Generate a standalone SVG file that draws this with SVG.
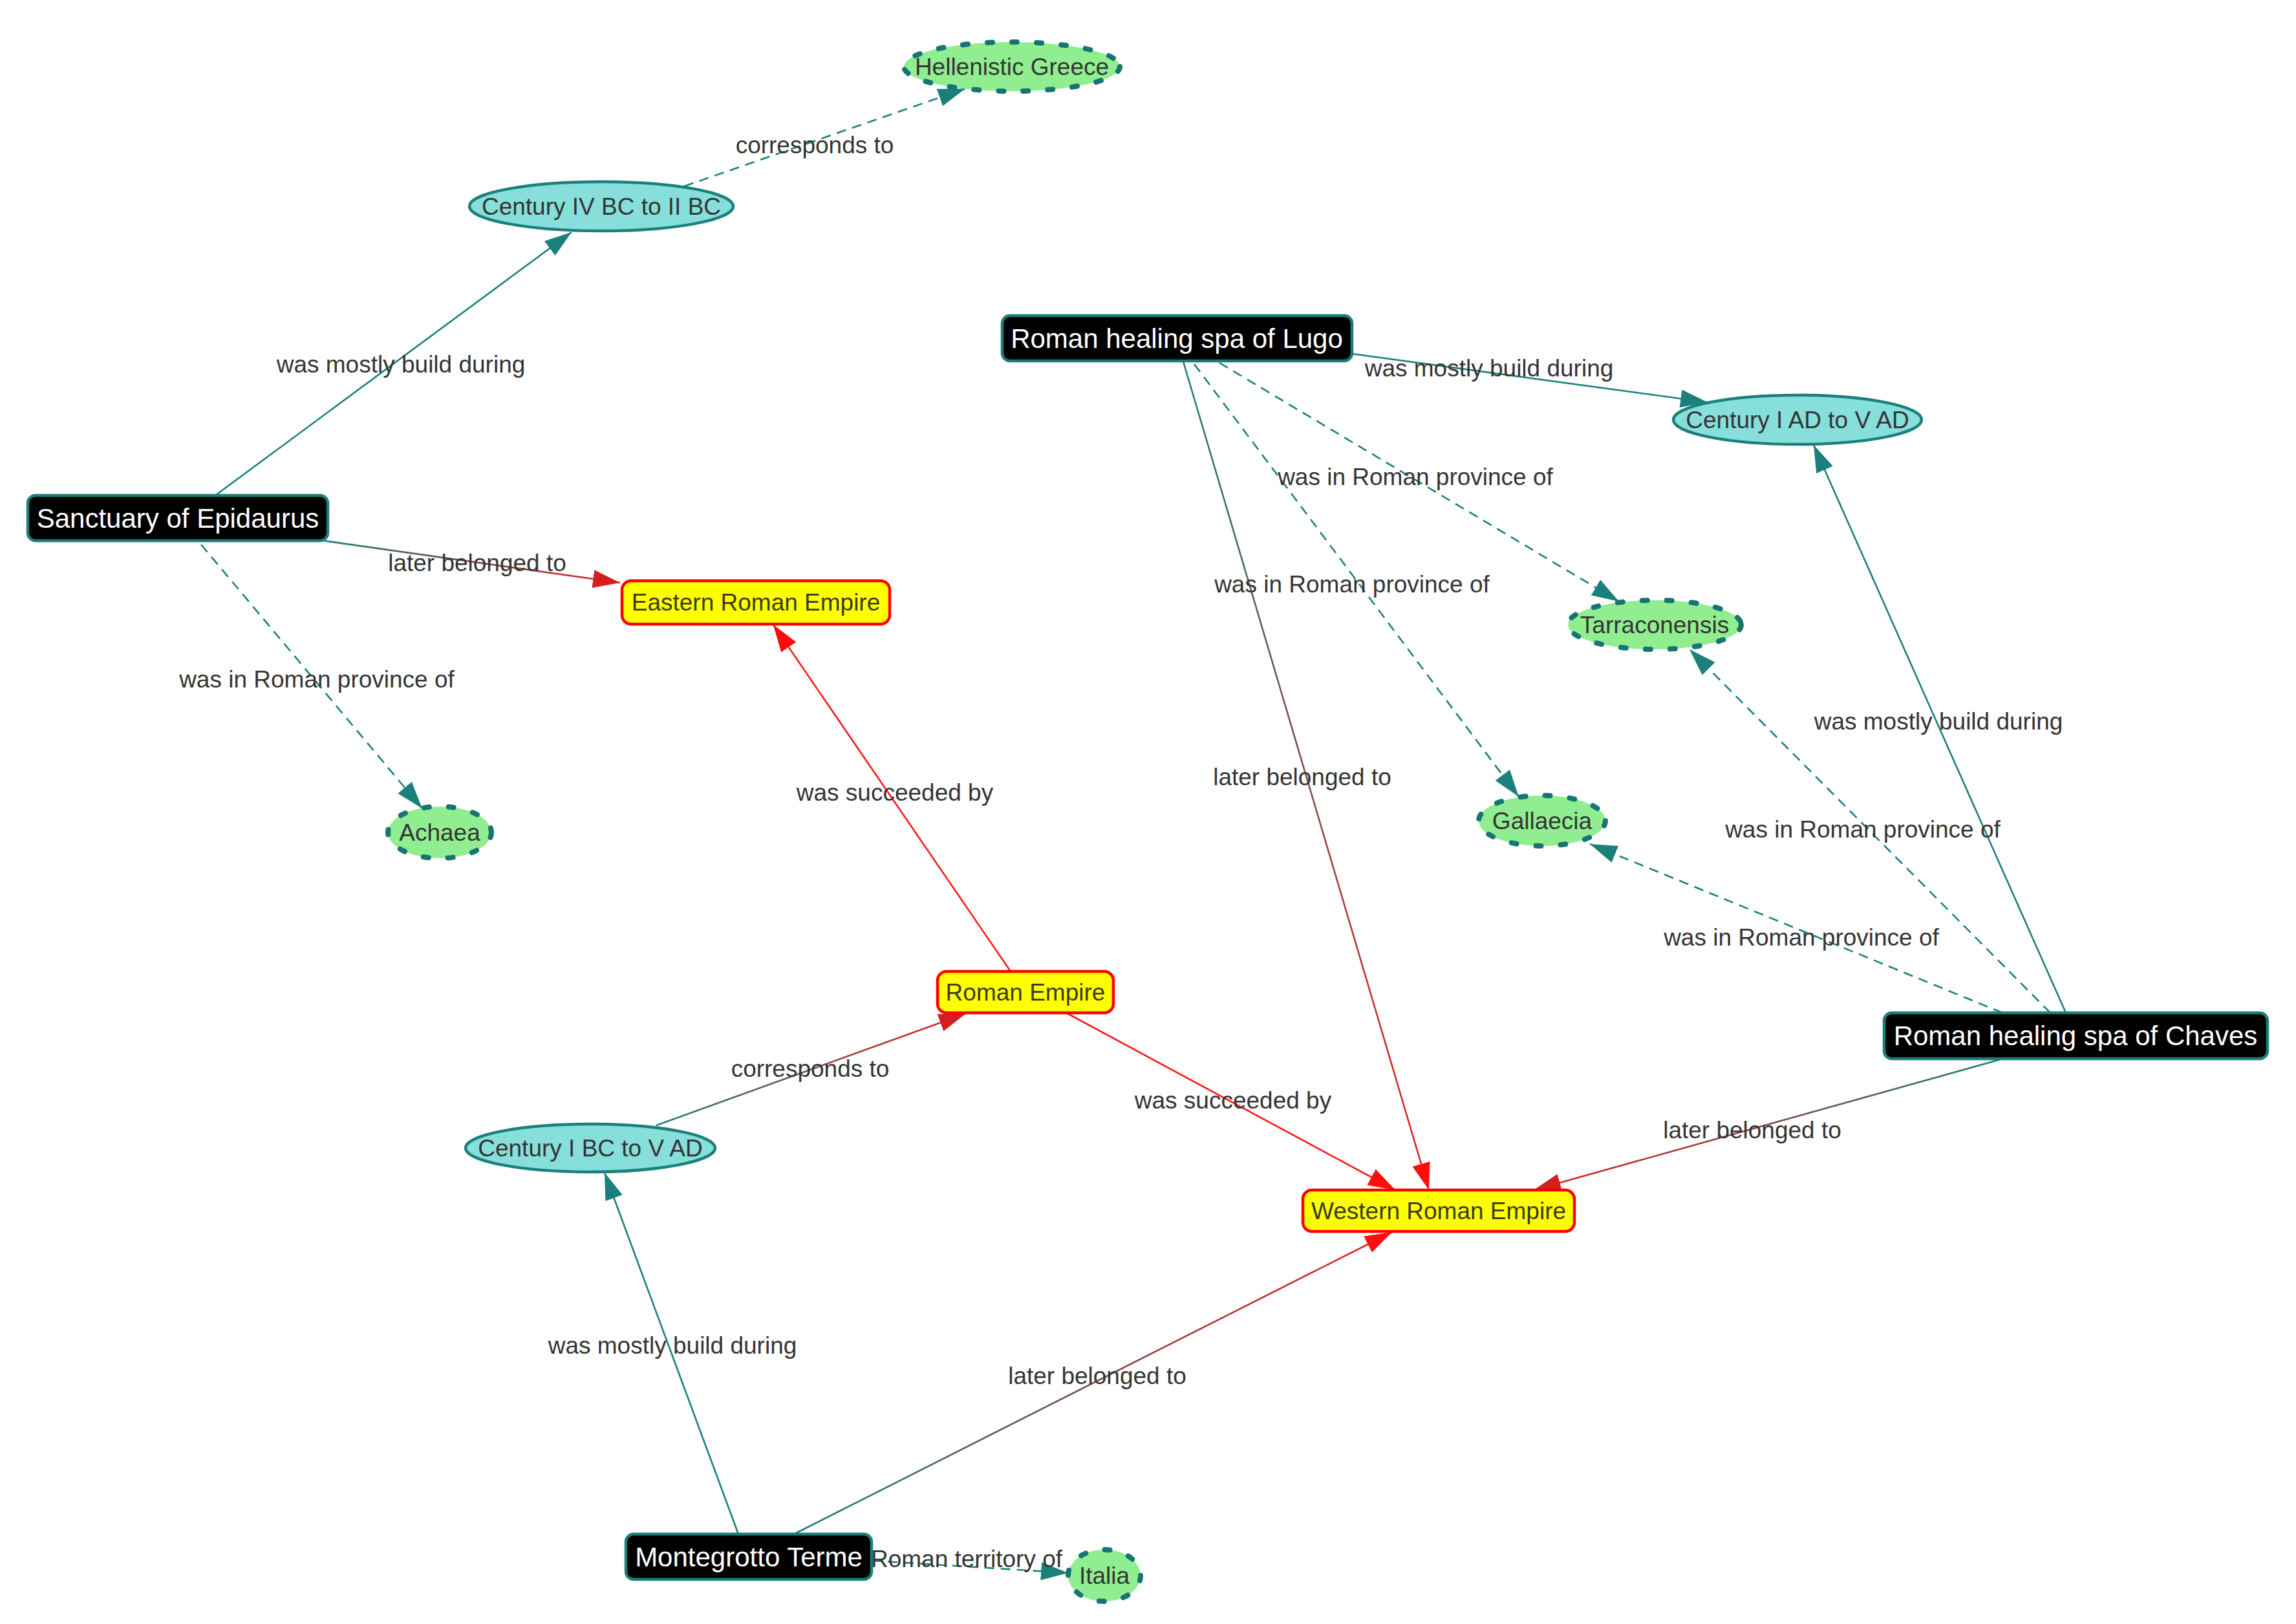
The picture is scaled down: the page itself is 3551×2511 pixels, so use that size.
<svg xmlns="http://www.w3.org/2000/svg" width="3551" height="2511" viewBox="0 0 3551 2511">
<style>
  text { font-family: "Liberation Sans", Arial, sans-serif; }
  .lbl { font-size: 37px; fill: #343434; text-anchor: middle; }
  .edge { fill: none; stroke-width: 2.6; }
  .teal { stroke: #1b807c; }
  .dash { stroke-dasharray: 15 10; }
  .red { stroke: #ff1a1a; }
  .box { fill: #000000; stroke: #1b7e7a; stroke-width: 4.5; }
  .boxt { font-size: 42px; fill: #ffffff; text-anchor: middle; }
  .emp { fill: #ffff00; stroke: #ff0000; stroke-width: 4.5; }
  .empt { font-size: 37px; fill: #3a3a1a; text-anchor: middle; }
  .per { fill: #86dfdb; stroke: #1b807c; stroke-width: 4.5; }
  .prov { fill: #90ee90; stroke: #167572; stroke-width: 8; stroke-dasharray: 8 30; stroke-linecap: round; }
  .nt { font-size: 37px; fill: #343434; text-anchor: middle; }
</style>
<defs>
  <marker id="aT" viewBox="0 0 42 28" refX="42" refY="14" markerWidth="42" markerHeight="28" markerUnits="userSpaceOnUse" orient="auto"><path d="M0,0 L42,14 L0,28 Z" fill="#1b807c"/></marker>
  <marker id="aR" viewBox="0 0 42 28" refX="42" refY="14" markerWidth="42" markerHeight="28" markerUnits="userSpaceOnUse" orient="auto"><path d="M0,0 L42,14 L0,28 Z" fill="#ff0d0d"/></marker>
  <marker id="aD" viewBox="0 0 42 28" refX="42" refY="14" markerWidth="42" markerHeight="28" markerUnits="userSpaceOnUse" orient="auto"><path d="M0,0 L42,14 L0,28 Z" fill="#d41f1f"/></marker>
  <linearGradient id="g3" gradientUnits="userSpaceOnUse" x1="500" y1="836" x2="959" y2="901"><stop offset="0" stop-color="#1b807c"/><stop offset="1" stop-color="#e61e1e"/></linearGradient>
  <linearGradient id="g6" gradientUnits="userSpaceOnUse" x1="1015" y1="1740" x2="1493" y2="1567"><stop offset="0" stop-color="#1b807c"/><stop offset="1" stop-color="#e61e1e"/></linearGradient>
  <linearGradient id="g8" gradientUnits="userSpaceOnUse" x1="1830" y1="559" x2="2210" y2="1840"><stop offset="0" stop-color="#1b807c"/><stop offset="1" stop-color="#f01e1e"/></linearGradient>
  <linearGradient id="g15" gradientUnits="userSpaceOnUse" x1="3094" y1="1638" x2="2372" y2="1840"><stop offset="0" stop-color="#1b807c"/><stop offset="1" stop-color="#e61e1e"/></linearGradient>
  <linearGradient id="g17" gradientUnits="userSpaceOnUse" x1="1228" y1="2372" x2="2152" y2="1905"><stop offset="0" stop-color="#1b807c"/><stop offset="1" stop-color="#e61e1e"/></linearGradient>
</defs>
<rect width="3551" height="2511" fill="#ffffff"/>
<g id="connectors">
  <line class="edge teal" x1="333" y1="766" x2="884" y2="359" marker-end="url(#aT)"/>
  <line class="edge teal dash" x1="1058" y1="288" x2="1493" y2="137" marker-end="url(#aT)"/>
  <line class="edge" stroke="url(#g3)" x1="500" y1="836" x2="959" y2="901" marker-end="url(#aD)"/>
  <line class="edge teal dash" x1="311" y1="842" x2="653" y2="1250" marker-end="url(#aT)"/>
  <line class="edge red" x1="1563" y1="1502" x2="1196" y2="966" marker-end="url(#aR)"/>
  <line class="edge" stroke="url(#g6)" x1="1015" y1="1740" x2="1494" y2="1567" marker-end="url(#aD)"/>
  <line class="edge red" x1="1649" y1="1566" x2="2158" y2="1840" marker-end="url(#aR)"/>
  <line class="edge" stroke="url(#g8)" x1="1830" y1="559" x2="2210" y2="1840" marker-end="url(#aR)"/>
  <line class="edge teal" x1="2091" y1="547" x2="2641" y2="622" marker-end="url(#aT)"/>
  <line class="edge teal dash" x1="1886" y1="561" x2="2504" y2="930" marker-end="url(#aT)"/>
  <line class="edge teal dash" x1="1847" y1="563" x2="2349" y2="1232" marker-end="url(#aT)"/>
  <line class="edge teal" x1="3195" y1="1566" x2="2805" y2="688" marker-end="url(#aT)"/>
  <line class="edge teal dash" x1="3171" y1="1566" x2="2613" y2="1004" marker-end="url(#aT)"/>
  <line class="edge teal dash" x1="3097" y1="1566" x2="2459" y2="1305" marker-end="url(#aT)"/>
  <line class="edge" stroke="url(#g15)" x1="3094" y1="1638" x2="2372" y2="1840" marker-end="url(#aD)"/>
  <line class="edge teal" x1="1142" y1="2372" x2="935" y2="1813" marker-end="url(#aT)"/>
  <line class="edge" stroke="url(#g17)" x1="1228" y1="2372" x2="2153" y2="1905" marker-end="url(#aR)"/>
  <line class="edge teal dash" x1="1348" y1="2413" x2="1652" y2="2432" marker-end="url(#aT)"/>
  <g id="edge-labels">
    <text class="lbl" x="620" y="576">was mostly build during</text>
    <text class="lbl" x="1260" y="237">corresponds to</text>
    <text class="lbl" x="738" y="883">later belonged to</text>
    <text class="lbl" x="490" y="1063">was in Roman province of</text>
    <text class="lbl" x="1384" y="1238">was succeeded by</text>
    <text class="lbl" x="1253" y="1665">corresponds to</text>
    <text class="lbl" x="1907" y="1714">was succeeded by</text>
    <text class="lbl" x="2014" y="1214">later belonged to</text>
    <text class="lbl" x="2303" y="582">was mostly build during</text>
    <text class="lbl" x="2189" y="750">was in Roman province of</text>
    <text class="lbl" x="2091" y="916">was in Roman province of</text>
    <text class="lbl" x="2998" y="1128">was mostly build during</text>
    <text class="lbl" x="2881" y="1295">was in Roman province of</text>
    <text class="lbl" x="2786" y="1462">was in Roman province of</text>
    <text class="lbl" x="2710" y="1760">later belonged to</text>
    <text class="lbl" x="1040" y="2093">was mostly build during</text>
    <text class="lbl" x="1697" y="2140">later belonged to</text>
    <text class="lbl" x="1495" y="2423">Roman territory of</text>
  </g>
</g>
<g id="hellenistic-greece">
  <ellipse class="prov" cx="1565" cy="103" rx="167" ry="38"/>
  <text class="nt" x="1565" y="116">Hellenistic Greece</text>
</g>
<g id="century-iv-bc">
  <ellipse class="per" cx="930" cy="319" rx="204" ry="38"/>
  <text class="nt" x="930" y="332">Century IV BC to II BC</text>
</g>
<g id="sanctuary-epidaurus">
  <rect class="box" x="43" y="766" width="464" height="70" rx="12"/>
  <text class="boxt" x="275" y="816">Sanctuary of Epidaurus</text>
</g>
<g id="eastern-roman-empire">
  <rect class="emp" x="962" y="898" width="414" height="67" rx="14"/>
  <text class="empt" x="1169" y="944">Eastern Roman Empire</text>
</g>
<g id="achaea">
  <ellipse class="prov" cx="680" cy="1287" rx="80" ry="40"/>
  <text class="nt" x="680" y="1300">Achaea</text>
</g>
<g id="lugo">
  <rect class="box" x="1550" y="488" width="541" height="70" rx="12"/>
  <text class="boxt" x="1820" y="538">Roman healing spa of Lugo</text>
</g>
<g id="century-i-ad">
  <ellipse class="per" cx="2780" cy="649" rx="192" ry="38"/>
  <text class="nt" x="2780" y="662">Century I AD to V AD</text>
</g>
<g id="tarraconensis">
  <ellipse class="prov" cx="2559" cy="966" rx="134" ry="38"/>
  <text class="nt" x="2559" y="979">Tarraconensis</text>
</g>
<g id="gallaecia">
  <ellipse class="prov" cx="2385" cy="1269" rx="98" ry="39"/>
  <text class="nt" x="2385" y="1282">Gallaecia</text>
</g>
<g id="roman-empire">
  <rect class="emp" x="1450" y="1502" width="272" height="64" rx="14"/>
  <text class="empt" x="1586" y="1547">Roman Empire</text>
</g>
<g id="chaves">
  <rect class="box" x="2914" y="1566" width="593" height="71" rx="12"/>
  <text class="boxt" x="3210" y="1616">Roman healing spa of Chaves</text>
</g>
<g id="century-i-bc">
  <ellipse class="per" cx="913" cy="1775" rx="193" ry="37"/>
  <text class="nt" x="913" y="1788">Century I BC to V AD</text>
</g>
<g id="western-roman-empire">
  <rect class="emp" x="2015" y="1840" width="420" height="64" rx="14"/>
  <text class="empt" x="2225" y="1885">Western Roman Empire</text>
</g>
<g id="montegrotto">
  <rect class="box" x="968" y="2372" width="380" height="70" rx="12"/>
  <text class="boxt" x="1158" y="2422">Montegrotto Terme</text>
</g>
<g id="italia">
  <ellipse class="prov" cx="1708" cy="2436" rx="56" ry="40"/>
  <text class="nt" x="1708" y="2449">Italia</text>
</g>
</svg>
